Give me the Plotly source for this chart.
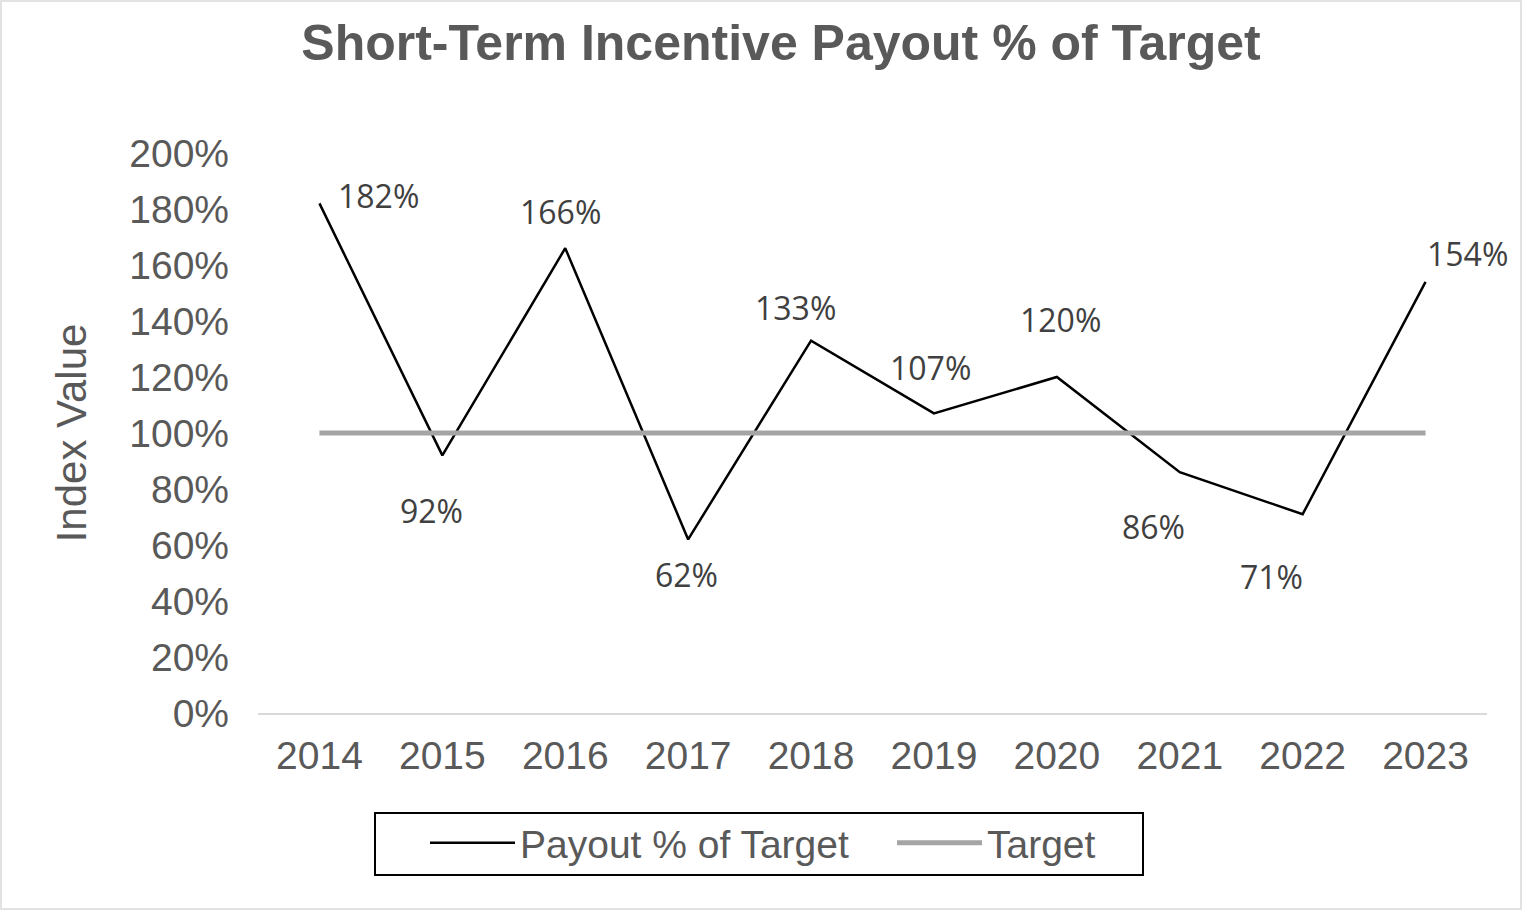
import plotly.graph_objects as go

years = ["2014", "2015", "2016", "2017", "2018", "2019", "2020", "2021", "2022", "2023"]
payout = [1.82, 0.92, 1.66, 0.62, 1.33, 1.07, 1.20, 0.86, 0.71, 1.54]
target = [1.0] * 10
labels = ["182%", "92%", "166%", "62%", "133%", "107%", "120%", "86%", "71%", "154%"]
label_dx = [59, -11, -5, -2, -16, -3, 4, -26, -31, 42]
label_dy = [8, -55, 37, -35, 33, 46, 58, -54, -62, 28]

W, H = 1522, 910
L, R, T, B = 258, 35, 153, 197
pw, ph = W - L - R, H - T - B


def px_x(v):
    return (v - L) / pw


def px_y(v):
    return (H - B - v) / ph


fig = go.Figure()
fig.add_trace(go.Scatter(x=years, y=payout, mode="lines", name="Payout % of Target",
                         line=dict(color="black", width=2.5), cliponaxis=False))
fig.add_trace(go.Scatter(x=years, y=target, mode="lines", name="Target",
                         line=dict(color="#A5A5A5", width=5)))

for i, (y, t, dx, dy) in enumerate(zip(payout, labels, label_dx, label_dy)):
    fig.add_annotation(x=i, y=y, text=t, showarrow=False, xshift=dx, yshift=dy,
                       font=dict(family="Open Sans", size=32, color="#404040"))

# chart border
fig.add_shape(type="rect", xref="paper", yref="paper",
              x0=px_x(1), x1=px_x(W - 1), y0=px_y(H - 1), y1=px_y(1),
              line=dict(color="#D9D9D9", width=1.5), layer="below")
# legend box
fig.add_shape(type="rect", xref="paper", yref="paper",
              x0=px_x(375), x1=px_x(1143), y0=px_y(875), y1=px_y(813),
              line=dict(color="black", width=2), layer="above")

fig.update_layout(
    width=W, height=H,
    margin=dict(l=L, r=R, t=T, b=B),
    paper_bgcolor="white", plot_bgcolor="white",
    title=dict(text="Short-Term Incentive Payout % of Target", x=781 / W, xanchor="center",
               y=1 - 42 / H, yanchor="middle",
               font=dict(family="Liberation Sans", size=50, color="#595959", weight="bold")),
    font=dict(family="Liberation Sans", color="#595959"),
    xaxis=dict(type="category", range=[-0.5, len(years) - 0.5], showgrid=False,
               showline=True, linecolor="#D9D9D9", linewidth=2,
               tickfont=dict(size=39, color="#595959"), ticks="", ticklabelstandoff=7),
    yaxis=dict(range=[0, 2.0], dtick=0.2, tickformat=".0%", showgrid=False, zeroline=False,
               showline=False, tickfont=dict(size=39, color="#595959"), ticklabelstandoff=28,
               title=dict(text="Index Value", font=dict(size=42, color="#595959"), standoff=29)),
    legend=dict(orientation="h", xref="container", yref="container",
                x=425 / W, xanchor="left", y=1 - 843 / H, yanchor="middle",
                bgcolor="rgba(0,0,0,0)", borderwidth=0,
                font=dict(size=39, color="#595959"), itemwidth=85,
                entrywidth=367),
    showlegend=True,
)

fig.write_html("out.html", config={"displayModeBar": False},
               post_script="document.body.style.margin='0';")
